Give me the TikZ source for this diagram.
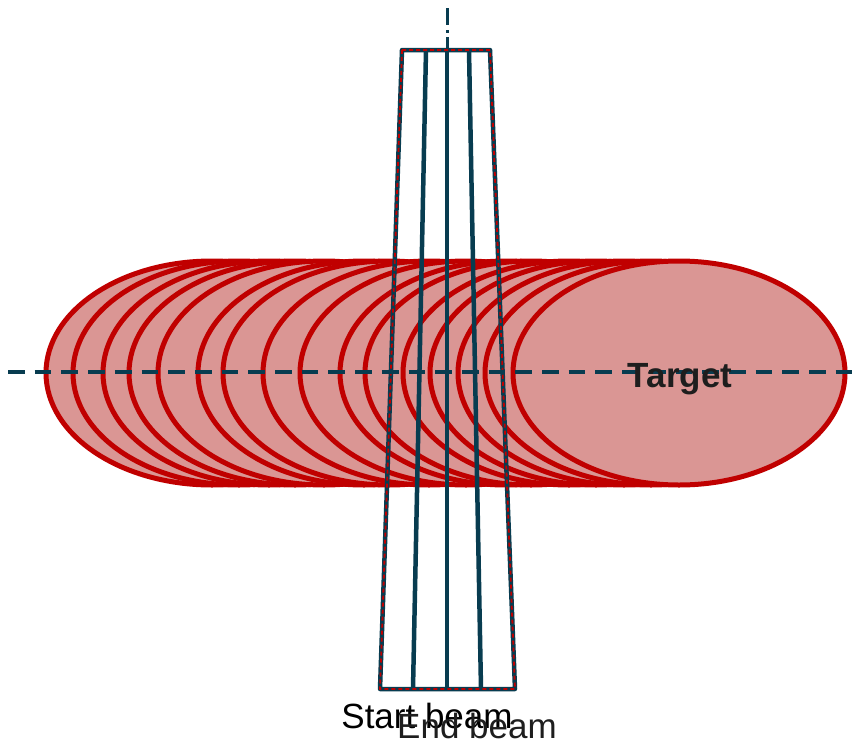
\documentclass[tikz,border=0pt]{standalone}
\usepackage{fontspec}
\setmainfont{Liberation Sans}
\definecolor{beamblue}{RGB}{8,60,80}
\definecolor{tred}{RGB}{192,0,0}
\definecolor{tfill}{RGB}{218,150,148}
\definecolor{tgray}{RGB}{30,30,30}
\tikzset{
  x=1pt, y=-1pt,
  target/.style={draw=tred, fill=tfill, line width=5pt},
  beamline/.style={draw=beamblue, line width=4.5pt},
  beamstart/.style={draw=tred, line width=1.8pt, dash pattern=on 4pt off 3pt},
  axis/.style={draw=beamblue, line width=4pt, dash pattern=on 16.7pt off 10pt},
  vaxis/.style={draw=beamblue, line width=3pt, dash pattern=on 17pt off 5pt on 3pt off 4pt},
  lbl/.style={inner sep=0pt, anchor=base, font=\fontsize{35}{40}\selectfont}
}
\begin{document}
\begin{tikzpicture}
\useasboundingbox (0,0) rectangle (860,742);
% target ellipses, left to right
\foreach \cx in {212,239,269,295,324,364,389,429,466,506,531,569,596,624,651,679}{
  \draw[target] (\cx,373) ellipse [x radius=166, y radius=112];
}
% beam geometry
\coordinate (tl) at (402,50);
\coordinate (tr) at (490,50);
\coordinate (bl) at (380,689);
\coordinate (br) at (515,689);
\coordinate (t1) at (426,50);
\coordinate (t2) at (447,50);
\coordinate (t3) at (469,50);
\coordinate (b1) at (413,689);
\coordinate (b2) at (447,689);
\coordinate (b3) at (481,689);
\coordinate (vtop) at (447,8);
% vertical axis
\draw[vaxis] (vtop) -- (b2);
% end beam
\draw[beamline, line join=round] (tl) -- (tr) -- (br) -- (bl) -- cycle;
\draw[beamline] (t1) -- (b1);
\draw[beamline] (t2) -- (b2);
\draw[beamline] (t3) -- (b3);
% start beam (dashed red overlay)
\draw[beamstart] (tl) -- (tr) -- (br) -- (bl) -- cycle;
% horizontal axis
\coordinate (hl) at (8,372);
\coordinate (hr) at (858,372);
\draw[axis] (hl) -- (hr);
% labels
\node[lbl, text=tgray, font=\fontsize{35}{40}\selectfont\bfseries] (target) at (680,387) {Target};
\node[lbl, text=black] (startbeam) at (427,728) {Start beam};
\node[lbl, text=tgray] (endbeam) at (477,738) {End beam};
\end{tikzpicture}
\end{document}
